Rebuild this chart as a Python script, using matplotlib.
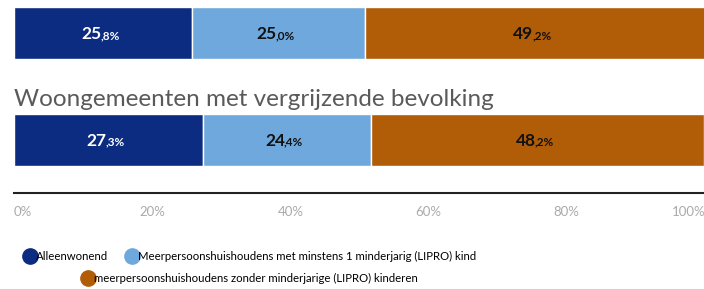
import matplotlib.pyplot as plt
from matplotlib.lines import Line2D

# shares per household type, two groups of municipalities
groups = ["", "Woongemeenten met vergrijzende bevolking"]
alleen = [25.8, 27.3]
met_kind = [25.0, 24.4]
zonder_kind = [49.2, 48.2]
series = [alleen, met_kind, zonder_kind]
names = ["Alleenwonend",
         "Meerpersoonshuishoudens met minstens 1 minderjarig (LIPRO) kind",
         "meerpersoonshuishoudens zonder minderjarige (LIPRO) kinderen"]
colors = ["#0b2c80", "#6fa8dc", "#b15c07"]
text_colors = ["white", "#111111", "#111111"]
xticks = [0, 20, 40, 60, 80, 100]

plt.rcParams["font.family"] = ["Lato", "DejaVu Sans"]

fig = plt.figure(figsize=(7.04, 2.89), dpi=100)
W, H = 704, 289
# axes spans from top of figure down to the axis line, and past the right edge
ax = fig.add_axes([14 / W, (H - 193) / H, 691 / W, 193 / H])
ax.set_xlim(0, 100)
ax.set_ylim(193, 0)

ypos = [33, 139.5]
height = 52

for yi, y in enumerate(ypos):
    left = 0
    for si, s in enumerate(series):
        v = s[yi]
        ax.barh(y, v, left=left, height=height, color=colors[si],
                edgecolor="white", linewidth=1)
        cx = left + v / 2
        whole, dec = f"{v:.1f}".split(".")
        ax.annotate(whole, (cx, y), xytext=(-2, -6), textcoords="offset pixels",
                    ha="right", va="baseline", fontsize=12.5, fontweight="bold",
                    color=text_colors[si])
        ax.annotate("," + dec + "%", (cx, y), xytext=(-3, -6), textcoords="offset pixels",
                    ha="left", va="baseline", fontsize=8.5, fontweight="bold",
                    color=text_colors[si])
        left += v
    if groups[yi]:
        ax.text(0, y - height / 2 - 8, groups[yi], ha="left", va="baseline",
                fontsize=17.5, fontweight="normal", color="#5a5a5a")

for sp in ["top", "left", "right"]:
    ax.spines[sp].set_visible(False)
ax.spines["bottom"].set_linewidth(1.5)
ax.spines["bottom"].set_color("#222222")
ax.set_yticks([])
ax.set_xticks(xticks)
ax.set_xticklabels([f"{t}%" for t in xticks])
ax.tick_params(axis="x", length=0, pad=9, labelsize=9.5, labelcolor="#aaaaaa")
labels = ax.get_xticklabels()
labels[0].set_ha("left")
labels[-1].set_ha("right")

handles = [Line2D([], [], marker="o", linestyle="", markersize=11,
                  color=c) for c in colors]
leg1 = fig.legend(handles[:2], names[:2], loc="center", ncol=2,
                  bbox_to_anchor=(250 / W, 1 - 256 / H), frameon=False,
                  fontsize=8.2, handletextpad=0.05, columnspacing=1.6,
                  handlelength=1.0)
leg2 = fig.legend(handles[2:], names[2:], loc="center",
                  bbox_to_anchor=(250 / W, 1 - 278 / H), frameon=False,
                  fontsize=8.2, handletextpad=0.05, handlelength=1.0)

fig.savefig("out.png", dpi=100)
